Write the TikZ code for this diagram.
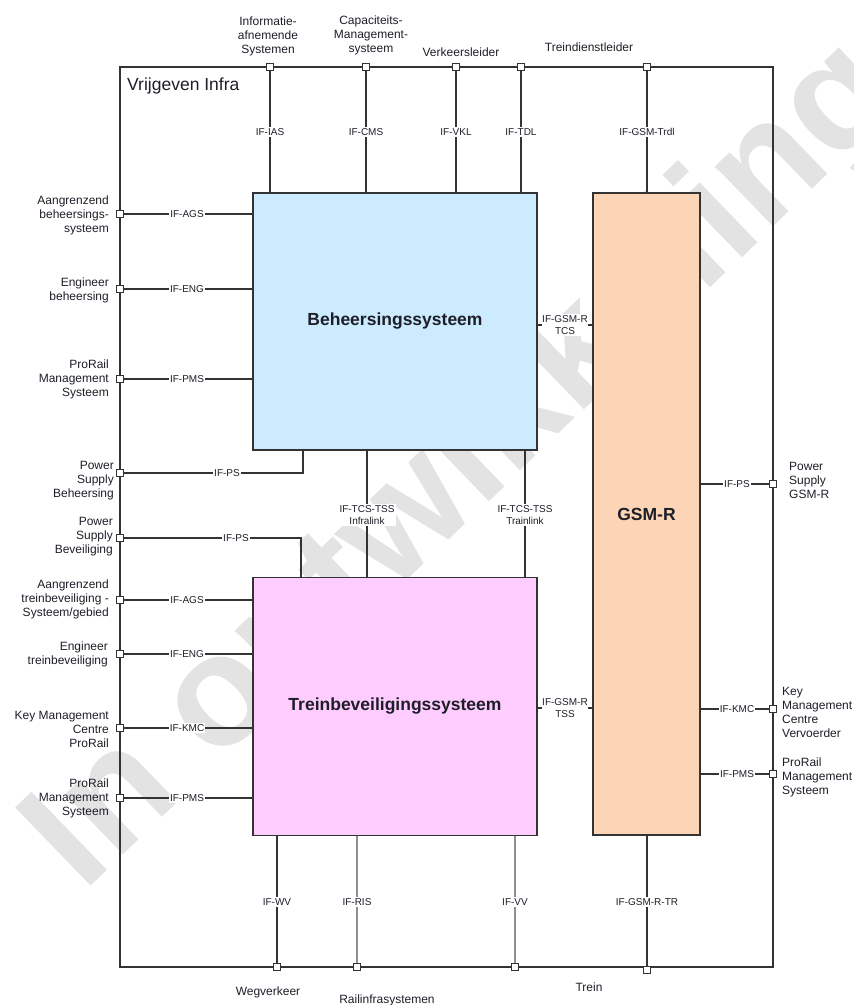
\documentclass[tikz,border=0pt]{standalone}
\usepackage{fontspec}
\setmainfont{Liberation Sans}
\definecolor{linec}{HTML}{333333}
\definecolor{txt}{HTML}{1E1E28}
\definecolor{behfill}{HTML}{CCEBFF}
\definecolor{tbfill}{HTML}{FFCCFF}
\definecolor{gsmfill}{HTML}{FBD5B5}
\definecolor{wmark}{HTML}{E3E3E3}
\definecolor{faint}{HTML}{8F8F8F}
\begin{document}
\begin{tikzpicture}[x=1pt,y=-1pt,
  line/.style={draw=linec, line width=1.1pt},
  faintline/.style={draw=faint, line width=1.1pt},
  port/.style={draw=linec, fill=white, line width=0.9pt, minimum size=6.5pt, inner sep=0pt},
  iflab/.style={fill=white, inner sep=1.2pt, font=\fontsize{10}{12}\selectfont, text=txt, align=center},
  ext/.style={font=\fontsize{12}{14}\selectfont, text=txt, inner sep=0pt},
  sysbox/.style={draw=linec, line width=1.4pt, inner sep=0pt, font=\fontsize{17.5}{20}\selectfont\bfseries, text=txt},
]
\useasboundingbox (0,0) rectangle (854,1005);

% watermark
\node[rotate=44, text=wmark, font=\fontsize{158}{158}\selectfont\bfseries] (wm) at (466,468) {In ontwikkeling};

% outer frame
\node[draw=linec, line width=1.2pt, minimum width=653pt, minimum height=900pt, inner sep=0pt] (frame) at (446.5,517) {};
\node[anchor=west, font=\fontsize{17.5}{20}\selectfont, text=txt, inner sep=0pt] (title) at (127,86) {Vrijgeven Infra};

% coordinates for the connector ends and ports
\coordinate (cIAS) at (270,67);
\coordinate (cCMS) at (366,67);
\coordinate (cVKL) at (456,67);
\coordinate (cTDL) at (521,67);
\coordinate (cTRDL) at (647,67);
\coordinate (cL1) at (120,214);
\coordinate (cL2) at (120,289);
\coordinate (cL3) at (120,379);
\coordinate (cL4) at (120,473);
\coordinate (cL5) at (120,538);
\coordinate (cL6) at (120,600);
\coordinate (cL7) at (120,654);
\coordinate (cL8) at (120,728);
\coordinate (cL9) at (120,798);
\coordinate (cR1) at (773,484);
\coordinate (cR2) at (773,709);
\coordinate (cR3) at (773,774);
\coordinate (cB1) at (277,967);
\coordinate (cB2) at (357,967);
\coordinate (cB3) at (515,967);
\coordinate (cB4) at (647,967);
\coordinate (ps1) at (303,473);
\coordinate (ps2) at (301,538);
\coordinate (infra) at (367,515);
\coordinate (train) at (525,515);
\coordinate (tcs) at (565,325);
\coordinate (tss) at (565,708);

% system blocks
\node[sysbox, fill=behfill, minimum width=284pt, minimum height=257pt] (beh) at (395,321.5) {Beheersingssysteem};
\node[sysbox, fill=tbfill, minimum width=284pt, minimum height=258pt] (tb) at (395,706.5) {Treinbeveiligingssysteem};
\node[sysbox, fill=gsmfill, minimum width=107pt, minimum height=642pt] (gsm) at (646.5,514) {GSM-R};

% connectors
\draw[line] (cIAS) -- (cIAS |- beh.north);
\draw[line] (cCMS) -- (cCMS |- beh.north);
\draw[line] (cVKL) -- (cVKL |- beh.north);
\draw[line] (cTDL) -- (cTDL |- beh.north);
\draw[line] (cTRDL) -- (cTRDL |- gsm.north);
\draw[line] (cL1) -- (cL1 -| beh.west);
\draw[line] (cL2) -- (cL2 -| beh.west);
\draw[line] (cL3) -- (cL3 -| beh.west);
\draw[line] (cL4) -- (ps1) -- (ps1 |- beh.south);
\draw[line] (cL5) -- (ps2) -- (ps2 |- tb.north);
\draw[line] (cL6) -- (cL6 -| tb.west);
\draw[line] (cL7) -- (cL7 -| tb.west);
\draw[line] (cL8) -- (cL8 -| tb.west);
\draw[line] (cL9) -- (cL9 -| tb.west);
\draw[line] (infra |- beh.south) -- (infra |- tb.north);
\draw[line] (train |- beh.south) -- (train |- tb.north);
\draw[line] (tcs -| beh.east) -- (tcs -| gsm.west);
\draw[line] (tss -| tb.east) -- (tss -| gsm.west);
\draw[line] (cR1 -| gsm.east) -- (cR1);
\draw[line] (cR2 -| gsm.east) -- (cR2);
\draw[line] (cR3 -| gsm.east) -- (cR3);
\draw[line] (cB1 |- tb.south) -- (cB1);
\draw[faintline] (cB2 |- tb.south) -- (cB2);
\draw[faintline] (cB3 |- tb.south) -- (cB3);
\draw[line] (cB4 |- gsm.south) -- (cB4);

% ports on the frame
\foreach \p in {cIAS,cCMS,cVKL,cTDL,cTRDL,cL1,cL2,cL3,cL4,cL5,cL6,cL7,cL8,cL9,cR1,cR2,cR3,cB1,cB2,cB3}
  \node[port] (port-\p) at (\p) {};
\node[port] (port-cB4) at ([yshift=-3pt]cB4) {};

% interface labels
\node[iflab] (lIAS) at (270,132) {IF-IAS};
\node[iflab] (lCMS) at (366,132) {IF-CMS};
\node[iflab] (lVKL) at (456,132) {IF-VKL};
\node[iflab] (lTDL) at (521,132) {IF-TDL};
\node[iflab] (lTRDL) at (647,132) {IF-GSM-Trdl};
\node[iflab] (lL1) at (187,214) {IF-AGS};
\node[iflab] (lL2) at (187,289) {IF-ENG};
\node[iflab] (lL3) at (187,379) {IF-PMS};
\node[iflab] (lL4) at (227,473) {IF-PS};
\node[iflab] (lL5) at (236,538) {IF-PS};
\node[iflab] (lL6) at (187,600) {IF-AGS};
\node[iflab] (lL7) at (187,654) {IF-ENG};
\node[iflab] (lL8) at (187,728) {IF-KMC};
\node[iflab] (lL9) at (187,798) {IF-PMS};
\node[iflab] (lInfra) at (infra) {IF-TCS-TSS\\Infralink};
\node[iflab] (lTrain) at (train) {IF-TCS-TSS\\Trainlink};
\node[iflab, inner xsep=0.5pt] (lTCS) at (tcs) {IF-GSM-R\\TCS};
\node[iflab, inner xsep=0.5pt] (lTSS) at (tss) {IF-GSM-R\\TSS};
\node[iflab] (lR1) at (737,484) {IF-PS};
\node[iflab] (lR2) at (737,709) {IF-KMC};
\node[iflab] (lR3) at (737,774) {IF-PMS};
\node[iflab] (lB1) at (277,902) {IF-WV};
\node[iflab] (lB2) at (357,902) {IF-RIS};
\node[iflab] (lB3) at (515,902) {IF-VV};
\node[iflab] (lB4) at (647,902) {IF-GSM-R-TR};

% external parties
\node[ext, align=center] (tIAS) at (268,36) {Informatie-\\afnemende\\Systemen};
\node[ext, align=center] (tCMS) at (371,35) {Capaciteits-\\Management-\\systeem};
\node[ext] (tVKL) at (461,52) {Verkeersleider};
\node[ext] (tTDL) at (589,47) {Treindienstleider};
\node[ext, align=right, anchor=east] (tL1) at (109,215) {Aangrenzend\\beheersings-\\systeem};
\node[ext, align=right, anchor=east] (tL2) at (109,290) {Engineer\\beheersing};
\node[ext, align=right, anchor=east] (tL3) at (109,379) {ProRail\\Management\\Systeem};
\node[ext, align=right, anchor=east] (tL4) at (114,481) {Power\\Supply\\Beheersing};
\node[ext, align=right, anchor=east] (tL5) at (113,537) {Power\\Supply\\Beveiliging};
\node[ext, align=right, anchor=east] (tL6) at (109,599) {Aangrenzend\\treinbeveiliging -\\Systeem/gebied};
\node[ext, align=right, anchor=east] (tL7) at (108,654) {Engineer\\treinbeveiliging};
\node[ext, align=right, anchor=east] (tL8) at (109,729) {Key Management\\Centre\\ProRail};
\node[ext, align=right, anchor=east] (tL9) at (109,798) {ProRail\\Management\\Systeem};
\node[ext, align=left, anchor=west] (tR1) at (789,480) {Power\\Supply\\GSM-R};
\node[ext, align=left, anchor=west] (tR2) at (782,712) {Key\\Management\\Centre\\Vervoerder};
\node[ext, align=left, anchor=west] (tR3) at (782,777) {ProRail\\Management\\Systeem};
\node[ext] (tB1) at (268,992) {Wegverkeer};
\node[ext] (tB2) at (387,1000) {Railinfrasystemen};
\node[ext] (tB3) at (589,987) {Trein};
\end{tikzpicture}
\end{document}
